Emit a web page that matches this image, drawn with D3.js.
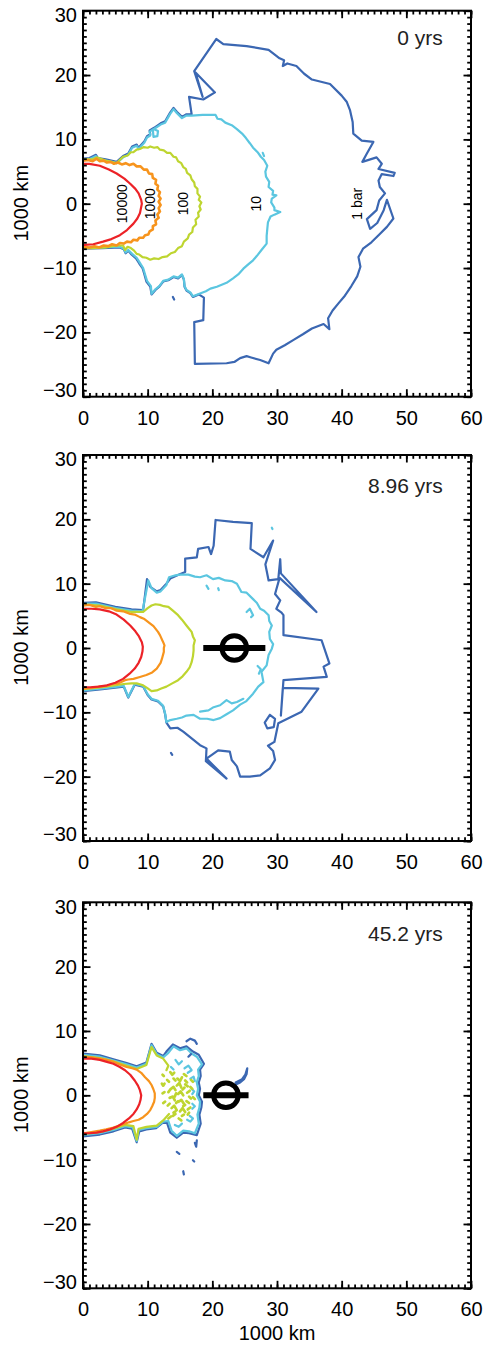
<!DOCTYPE html>
<html><head><meta charset="utf-8">
<script src="https://cdn.jsdelivr.net/npm/d3@7"></script>
<style>body{margin:0;background:#fff}svg{display:block}text{font-family:"Liberation Sans",Arial,Helvetica,sans-serif}</style>
</head><body><svg id="c" width="484" height="1345"></svg>
<script>
// ---------------- data ----------------
const xTicks = [0,10,20,30,40,50,60];
const yTicks = [-30,-20,-10,0,10,20,30];
const timeLabels = ["0 yrs","8.96 yrs","45.2 yrs"];
const levelLabels = ["10000","1000","100","10","1 bar"];
const levelLabelX = [6.1,10.3,15.5,26.8,42.3];
const levelColors = ["#ec2227","#f7941d","#bed530","#5bc6e0","#3b67b2"];
const axisTitle = "1000 km";

// panel 1: 0 yrs
const red0 = [[0,5.2],[0,6.2],[1,6.2],[2.6,5.9],[4,5.3],[5.2,4.7],[6.4,3.9],[7.3,3.1],[8.1,2.3],[8.6,1.6],[9.0,0.6],[9.1,0],[8.8,-1.5],[8.4,-2.3],[7.8,-3.1],[6.8,-4.1],[5.7,-4.9],[4.4,-5.5],[3.1,-5.9],[1.6,-6.3],[0.3,-6.4],[0,-6.4],[0,-5.3]];
const orange0 = [[0,6.7],[0.8,6.8],[1.5,6.6],[2.1,7.0],[2.6,6.6],[3.2,6.7],[3.7,6.4],[4.3,6.5],[4.8,6.2],[5.4,6.4],[6.0,6.1],[6.6,6.3],[7.2,6.0],[7.8,6.2],[8.3,5.8],[8.9,5.8],[9.4,5.3],[9.9,5.3],[10.2,4.7],[10.7,4.6],[10.8,4.0],[11.3,3.7],[11.2,3.1],[11.6,2.8],[11.5,2.2],[11.9,1.8],[11.7,1.2],[12.0,0.8],[11.7,0.3],[12.0,-0.2],[11.7,-0.7],[11.9,-1.2],[11.5,-1.7],[11.7,-2.2],[11.2,-2.6],[11.3,-3.2],[10.8,-3.5],[10.8,-4.0],[10.3,-4.3],[10.1,-4.8],[9.6,-4.9],[9.3,-5.3],[8.7,-5.3],[8.4,-5.7],[7.8,-5.6],[7.4,-6.0],[6.8,-5.9],[6.3,-6.2],[5.7,-6.1],[5.2,-6.5],[4.5,-6.3],[3.9,-6.6],[3.2,-6.5],[2.5,-6.8],[1.8,-6.6],[1.0,-6.8],[0,-6.7]];
const yg0 = [[0,6.9],[1.5,6.9],[2.1,7.2],[3.5,6.7],[5.2,6.3],[5.8,6.9],[6.2,7.3],[6.9,7.5],[7.4,8.0],[7.8,8.0],[8.3,8.4],[8.8,8.5],[9.4,8.8],[10.0,8.7],[10.4,8.9],[11.0,8.7],[11.5,8.8],[11.9,8.4],[12.5,8.3],[13.0,7.9],[13.5,7.9],[14.0,7.3],[14.4,7.2],[14.7,6.6],[15.2,6.3],[15.5,5.7],[15.9,5.4],[16.1,4.8],[16.6,4.4],[16.8,3.8],[17.2,3.3],[17.3,2.7],[17.7,2.3],[17.7,1.6],[18.1,1.1],[17.9,0.6],[18.3,0.2],[18.0,-0.4],[18.2,-0.9],[17.8,-1.4],[17.9,-2.0],[17.4,-2.5],[17.5,-3.2],[17.0,-3.7],[16.9,-4.4],[16.4,-4.8],[16.2,-5.4],[15.6,-5.9],[15.3,-6.6],[14.7,-6.9],[14.2,-7.5],[13.6,-7.7],[13.0,-8.2],[12.3,-8.3],[11.7,-8.6],[11.0,-8.5],[10.4,-8.7],[9.8,-8.4],[9.2,-8.3],[8.7,-7.9],[8.3,-7.8],[7.9,-7.3],[7.4,-6.9],[6.9,-6.7],[6.5,-7.2],[6.2,-6.5],[5.2,-6.5],[3.5,-6.8],[1.5,-6.9],[0,-6.9]];
const lb0 = [[0,6.9],[1,6.9],[2,7.4],[2.3,6.9],[3.5,6.7],[4.5,6.5],[5.2,6.3],[6.2,7.2],[7.0,7.6],[7.6,8.7],[8.3,9.0],[8.6,8.5],[9.5,9.5],[9.9,10.3],[10.4,10.6],[10.3,11.2],[10.9,11.6],[11.6,11.3],[11.5,10.5],[10.9,10.4],[10.8,11.5],[12.0,12.3],[12.7,12.6],[13.5,14.0],[14.0,14.7],[14.5,14.1],[15.3,13.3],[16.0,13.7],[16.8,13.7],[18.5,13.8],[20.5,13.8],[20.8,13.2],[21.4,13.1],[22.0,12.6],[23.0,12.2],[23.8,11.6],[24.6,10.9],[25.2,10.2],[25.8,9.4],[26.3,8.7],[27.0,8.0],[27.5,7.3],[28.0,6.8],[28.5,5.9],[28.2,5.0],[28.3,4.2],[28.8,3.4],[28.7,2.6],[29.4,2.0],[29.3,1.4],[29.9,1.3],[29.2,0.8],[29.1,0.2],[29.6,-0.6],[29.6,-1.0],[30.5,-1.3],[29.6,-1.7],[29.0,-2.0],[28.6,-2.9],[28.5,-3.9],[28.4,-5.0],[28.4,-6.2],[27.6,-7.2],[26.9,-8.1],[26.3,-8.8],[25.6,-9.4],[24.8,-10.1],[24.0,-11.0],[23.2,-11.6],[22.2,-12.3],[20.7,-12.9],[19.7,-13.2],[19.0,-13.6],[18.0,-14.0],[17.0,-14.4],[16.6,-13.8],[16.0,-13.4],[15.7,-12.8],[15.6,-11.7],[15.3,-11.0],[14.7,-11.5],[14.0,-11.3],[13.2,-11.8],[12.4,-12.0],[11.8,-12.8],[11.2,-13.3],[10.6,-14.0],[10.5,-12.8],[9.9,-12.0],[9.6,-11.0],[9.3,-10.0],[8.8,-9.2],[8.3,-8.4],[7.6,-7.8],[7.0,-7.2],[6.6,-7.6],[6.3,-7.0],[5.7,-6.7],[4.5,-6.7],[3.0,-6.8],[1.5,-6.8],[0,-6.9]];
const lb0Bits = [[[27.8,7.9],[28.0,7.4]]];
const blue0 = [[0,7.0],[1.0,7.1],[2.0,7.6],[2.3,7.1],[3.5,6.9],[5.2,6.5],[6.2,7.4],[7.0,7.8],[7.6,8.9],[8.3,9.2],[8.6,8.7],[9.5,9.7],[9.9,10.5],[10.4,10.8],[10.3,11.4],[11.0,11.8],[12.0,12.5],[12.7,12.8],[13.5,14.2],[14.0,14.9],[14.5,14.3],[15.3,13.5],[16.0,13.9],[16.8,13.9],[16.4,16.6],[18.6,16.2],[20.4,17.3],[17.4,20.4],[18.5,16.6],[17.2,20.6],[20.6,25.6],[21.7,24.8],[25.3,24.5],[28.7,23.9],[30.4,22.6],[31.1,22.3],[30.9,21.4],[31.6,21.8],[33.0,21.4],[34.2,20.2],[35.4,19.3],[38.2,18.6],[40.0,16.8],[40.8,15.8],[41.3,14.5],[41.7,12.7],[41.8,10.9],[43.1,9.8],[44.9,9.6],[43.9,7.8],[43.2,6.5],[45.4,7.2],[46.2,6.2],[45.7,5.4],[48.2,4.8],[48.0,4.3],[46.2,4.6],[45.7,3.6],[45.9,2.6],[46.7,1.6],[45.8,0.5],[45.4,-1.0],[43.9,-2.4],[44.4,-3.9],[45.5,-3.0],[46.5,-1.0],[47.0,0.6],[48.0,-2.3],[47.0,-3.6],[45.9,-4.7],[44.6,-6.0],[43.3,-7.0],[42.6,-8.3],[42.9,-9.8],[42.4,-11.3],[41.5,-12.8],[40.5,-14.3],[39.5,-15.5],[38.6,-16.6],[37.9,-17.8],[38.1,-19.5],[37.2,-18.7],[35.4,-19.4],[34.0,-20.3],[32.5,-21.2],[31.2,-22.0],[29.9,-22.7],[29.4,-23.3],[28.7,-24.8],[27.4,-24.3],[26.0,-23.9],[25.3,-23.7],[24.3,-24.0],[23.4,-24.6],[22.2,-24.8],[17.3,-24.9],[17.2,-18.4],[18.6,-18.1],[18.7,-14.6],[17.9,-14.1],[17.0,-14.5],[16.6,-13.9],[16.0,-13.5],[15.7,-12.9],[15.6,-11.8],[15.3,-11.1],[14.7,-11.6],[14.0,-11.4],[13.2,-11.9],[12.4,-12.1],[11.8,-12.9],[11.2,-13.4],[10.6,-14.1],[10.4,-12.9],[9.8,-12.1],[9.5,-11.0],[9.2,-10.0],[8.7,-9.3],[8.2,-8.5],[7.5,-7.9],[7.0,-7.3],[6.6,-7.7],[6.3,-7.1],[5.7,-6.8],[3.0,-6.9],[0,-7.0]];
const blue0Bits = [[[13.9,-14.5],[14.1,-14.9]]];

// panel 2: 8.96 yrs
const red1 = [[0,5.3],[0,6.1],[1.3,6.1],[2.6,6.0],[4.0,5.7],[5.2,5.2],[6.3,4.4],[7.3,3.5],[8.1,2.6],[8.6,1.9],[9.1,0.9],[9.25,0.2],[9.2,-0.5],[9.0,-1.4],[8.6,-2.3],[8.0,-3.2],[7.2,-4.0],[6.2,-4.8],[5.0,-5.4],[3.7,-5.8],[2.4,-6.0],[1.1,-6.1],[0,-6.1],[0,-5.2]];
const orange1 = [[0,6.6],[1.0,6.7],[2.0,6.4],[2.6,6.5],[3.5,6.2],[4.3,6.2],[5.2,5.8],[6.2,5.7],[7.3,5.3],[8.0,5.2],[8.8,4.8],[9.5,4.5],[10.4,3.8],[10.9,3.4],[11.6,2.5],[11.9,2.0],[12.4,0.9],[12.6,0.4],[12.5,0],[12.5,-0.6],[12.2,-1.7],[12.0,-2.3],[11.4,-3.2],[10.7,-3.8],[9.8,-4.2],[8.8,-4.5],[7.8,-4.8],[7.0,-4.9],[6.5,-5.0],[5.5,-5.5],[4.6,-5.6],[3.7,-5.9],[2.5,-6.0],[1.3,-6.2],[0,-6.3]];
const yg1 = [[0,6.8],[2.6,6.6],[5.2,6.0],[7.5,5.6],[9.3,5.6],[10.0,6.2],[10.6,6.6],[11.2,6.8],[11.9,6.7],[12.5,6.5],[13.2,6.4],[13.9,5.8],[14.7,5.1],[15.3,4.4],[16.0,3.5],[16.4,3.0],[16.8,2.5],[17.0,1.8],[17.3,1.2],[17.1,0.4],[17.1,-0.4],[17.0,-1.3],[16.8,-2.2],[16.5,-3.0],[16.0,-3.7],[15.4,-4.4],[14.7,-5.0],[13.8,-5.5],[12.9,-6.0],[12.1,-6.3],[11.4,-6.6],[10.6,-6.7],[9.9,-6.2],[9.3,-5.8],[8.3,-5.5],[7.5,-5.5],[6.3,-5.6],[3.0,-6.1],[0,-6.4]];
const lb1 = [[0,6.9],[2.0,6.9],[5.0,6.2],[7.5,5.8],[9.2,5.7],[10.1,10.5],[10.6,9.3],[11.4,8.6],[12.0,8.8],[12.9,9.8],[13.3,11.0],[14.3,11.3],[15.0,11.4],[16.3,11.4],[17.3,11.1],[18.1,11.0],[19.1,11.3],[20.1,10.7],[21.0,10.9],[22.0,10.5],[23.0,10.4],[23.8,10.0],[24.5,8.7],[25.3,8.6],[26.3,7.6],[26.9,7.0],[27.4,6.1],[28.0,5.8],[28.7,5.1],[28.8,4.2],[29.2,3.5],[28.8,2.5],[28.9,1.4],[29.4,0.6],[29.2,-0.1],[28.7,-1.1],[28.4,-2.7],[27.6,-3.7],[27.9,-5.3],[27.1,-6.0],[26.3,-7.1],[25.2,-8.3],[24.3,-8.8],[23.2,-9.7],[22.2,-10.3],[21.2,-10.9],[20.2,-11.2],[19.2,-11.0],[18.1,-11.0],[17.1,-10.4],[16.0,-10.5],[15.3,-10.8],[14.5,-11.0],[13.5,-11.2],[12.9,-11.5],[12.7,-10.2],[12.4,-9.0],[11.6,-8.2],[10.6,-7.9],[10.0,-7.2],[9.3,-5.9],[8.0,-5.6],[7.0,-7.6],[6.3,-5.9],[3.0,-6.3],[0,-6.6]];
const lb1Bits = [[[18.1,-9.9],[19.4,-9.7],[20.2,-9.2],[21.2,-8.9],[22.2,-8.1],[23.0,-8.6],[23.8,-8.4],[24.8,-7.9]],[[25.3,5.6],[25.8,6.1],[26.3,5.1],[26.0,4.8]],[[19.1,9.7],[19.4,9.2]],[[20.9,9.3],[21.0,9.0]],[[29.2,18.7],[29.3,18.5]],[[27.0,-2.8],[27.5,-3.3],[27.2,-4.0]]];
const blue1 = [[0,7.0],[2.0,7.1],[5.0,6.4],[7.5,6.0],[9.3,5.9],[9.9,10.7],[10.4,9.5],[11.4,8.8],[12.0,9.0],[12.9,10.0],[13.5,10.8],[14.6,11.3],[15.8,11.8],[15.8,13.9],[17.6,14.1],[17.8,15.4],[19.4,15.7],[19.8,14.6],[20.2,15.9],[20.5,19.9],[23.2,19.6],[26.1,19.4],[25.9,15.4],[27.9,14.1],[29.4,16.7],[28.2,13.0],[28.4,12.0],[28.7,10.5],[30.2,10.7],[30.5,13.8],[30.6,11.6],[36.1,5.6],[30.4,10.9],[29.7,8.4],[30.5,7.4],[29.9,6.1],[30.7,5.5],[31.0,5.1],[31.0,2.0],[36.9,1.2],[38.1,-2.4],[37.2,-2.9],[37.7,-4.5],[31.0,-5.0],[30.6,-10.5],[30.9,-6.2],[36.4,-6.3],[33.8,-9.9],[30.2,-11.7],[29.6,-14.6],[28.6,-15.2],[29.4,-16.0],[29.7,-17.4],[28.9,-18.7],[27.4,-19.8],[25.8,-20.0],[24.3,-20.0],[23.8,-18.4],[23.0,-17.4],[22.7,-16.1],[20.9,-15.9],[19.1,-17.2],[22.2,-20.3],[19.0,-17.6],[19.1,-15.6],[18.1,-15.1],[15.5,-13.0],[14.6,-12.4],[13.5,-12.5],[12.9,-11.6],[12.7,-10.3],[12.4,-9.1],[11.6,-8.3],[10.6,-8.0],[10.0,-7.3],[9.3,-6.0],[8.0,-5.7],[7.0,-7.7],[6.3,-6.0],[3.0,-6.4],[0,-6.7]];
const blue1Bits = [[[28.9,-10.4],[29.7,-11.0],[29.5,-12.3],[28.5,-12.5],[28.1,-11.6],[28.9,-10.4]],[[13.6,-16.3],[13.8,-16.6]]];

// panel 3: 45.2 yrs
const red2 = [[0,4.9],[0,5.7],[1.3,5.7],[2.6,5.5],[3.7,5.2],[4.7,4.9],[5.7,4.4],[6.5,3.9],[7.3,3.2],[8.0,2.3],[8.5,1.5],[8.8,0.8],[9.0,0],[8.9,-0.7],[8.7,-1.4],[8.3,-2.2],[7.8,-2.9],[7.1,-3.6],[6.2,-4.3],[5.2,-4.9],[4.2,-5.3],[3.1,-5.6],[2.1,-5.8],[1.0,-5.9],[0,-5.9],[0,-5.0]];
const orange2 = [[0,6.0],[1.3,5.9],[2.6,5.7],[3.7,5.5],[4.7,5.2],[5.7,4.8],[6.75,4.4],[7.6,4.2],[8.3,4.0],[9.0,3.5],[9.6,2.8],[10.2,2.2],[10.6,1.6],[10.9,0.9],[11.1,0.3],[11.1,-0.4],[11.0,-1.0],[10.7,-1.7],[10.4,-2.3],[9.9,-2.9],[9.3,-3.4],[8.6,-3.8],[7.8,-4.0],[7.1,-4.2],[6.5,-4.4],[5.6,-4.7],[4.7,-5.0],[3.6,-5.3],[2.6,-5.5],[1.3,-5.7],[0,-5.9]];
const yg2Top = [[0,6.1],[2.6,5.8],[4.7,5.3],[6.75,4.6],[8.3,4.1],[9.8,4.7],[10.6,7.5],[11.4,6.2],[12.4,5.7],[13.2,4.6],[12.9,3.9]];
const yg2Bot = [[13.3,-2.9],[12.4,-3.9],[11.4,-4.7],[9.8,-4.9],[8.6,-5.2],[8.3,-6.9],[7.8,-4.8],[6.5,-4.6],[4.7,-5.2],[2.6,-5.7],[0,-6.0]];
const yg2Bits = [[[12.3,3.2],[12.5,3.0]],[[12.2,1.8],[12.4,1.5],[12.6,1.8]],[[12.3,0.3],[12.6,0.5]],[[12.4,-1.2],[12.7,-1.0]],[[13.0,2.4],[13.3,2.1]],[[13.5,3.6],[13.8,3.2],[14.1,3.5]],[[13.6,1.0],[14.0,1.3],[14.3,0.8]],[[13.4,-0.4],[13.9,-0.2],[14.2,-0.8]],[[13.7,-2.0],[14.1,-1.6],[14.5,-2.3]],[[13.9,-3.2],[14.3,-2.9]],[[14.6,2.6],[15.0,2.2],[15.3,2.8]],[[14.5,1.5],[14.9,1.9],[15.2,1.2]],[[14.7,0.2],[15.1,0.6],[15.5,0.0]],[[14.8,-1.0],[15.2,-0.7],[15.6,-1.3]],[[15.0,-2.5],[15.4,-2.0],[15.8,-2.6]],[[15.6,3.3],[16.0,3.0]],[[15.8,1.7],[16.2,1.4]],[[16.1,0.4],[16.5,0.7]],[[16.0,-0.9],[16.4,-1.2]],[[16.2,-2.2],[16.6,-1.9]],[[16.7,2.4],[17.0,2.1]],[[17.0,-0.3],[17.3,-0.6]],[[13.2,-3.6],[13.6,-3.3]],[[14.8,-3.6],[15.2,-3.9]],[[13.2,0.5],[13.5,0.9]],[[13.1,-1.6],[13.4,-1.3]],[[14.0,2.6],[14.3,2.3]],[[14.2,-0.2],[14.4,0.3]],[[14.4,-1.2],[14.7,-0.9]],[[15.4,0.9],[15.7,1.2]],[[15.5,-1.7],[15.8,-1.5]],[[15.8,2.3],[16.1,2.0]],[[16.4,-0.2],[16.7,-0.5]],[[16.6,1.3],[16.9,1.0]],[[14.0,-2.7],[14.3,-2.5]],[[15.3,-3.2],[15.6,-3.0]],[[16.2,-3.0],[16.4,-2.7]]];
const lb2 = [[0,6.3],[2.6,6.0],[4.7,5.4],[6.75,4.8],[8.3,4.3],[9.8,4.9],[10.6,7.8],[11.4,6.4],[12.4,5.9],[13.2,6.6],[14.0,7.6],[15.0,7.0],[16.0,7.3],[16.8,6.5],[17.6,6.0],[18.4,4.8],[17.8,4.0],[17.9,3.0],[17.6,2.0],[17.8,1.0],[17.6,0.0],[18.1,-1.0],[18.0,-1.9],[17.7,-3.0],[17.9,-4.4],[17.3,-5.9],[16.4,-5.6],[15.5,-5.5],[14.5,-6.3],[13.7,-5.5],[13.2,-4.0],[12.4,-4.1],[11.4,-4.9],[9.8,-5.1],[8.6,-5.4],[8.3,-7.1],[7.7,-5.0],[6.5,-4.8],[4.7,-5.4],[2.6,-5.9],[0,-6.2]];
const lb2Bits = [[[14.3,5.5],[14.8,4.8],[15.3,5.3]],[[15.7,4.2],[16.3,4.6],[16.8,3.9],[16.2,3.5]],[[16.6,2.6],[17.1,2.9],[17.3,2.2]],[[16.8,1.0],[17.2,0.6],[16.9,0.2]],[[16.9,-1.3],[17.3,-1.7],[16.9,-2.1]],[[16.5,-3.2],[17.0,-3.6],[16.6,-4.1],[16.1,-3.8]],[[14.2,-4.6],[14.8,-4.9],[15.3,-4.4]],[[13.6,4.4],[14.0,4.0]]];
const blue2 = [[0,6.5],[2.6,6.2],[4.7,5.6],[6.75,5.0],[8.3,4.5],[9.8,5.1],[10.6,8.0],[11.4,6.6],[12.4,6.1],[12.9,6.8],[13.9,7.9],[15.0,7.3],[16.0,7.6],[17.0,6.8],[17.9,6.3],[18.7,4.9],[18.1,4.0],[18.2,3.0],[17.9,2.0],[18.1,1.0],[17.9,0.0],[18.4,-1.0],[18.3,-1.9],[18.0,-3.0],[18.2,-4.4],[17.6,-6.2],[16.4,-5.9],[15.5,-5.8],[14.5,-6.6],[13.5,-5.8],[13.0,-4.3],[12.3,-4.3],[11.3,-5.1],[9.8,-5.3],[8.7,-5.6],[8.3,-7.3],[7.6,-5.2],[6.5,-5.0],[4.7,-5.6],[2.6,-6.1],[0,-6.4]];
const blue2Bits = [[[16.0,8.4],[16.6,8.8],[17.3,8.5],[17.6,8.0]],[[16.3,6.0],[16.7,6.4]],[[17.6,-7.0],[17.5,-8.0],[17.3,-7.4]],[[14.5,-8.8],[14.9,-9.1]],[[17.0,-10.1],[17.2,-10.3]],[[15.5,-11.8],[15.6,-12.3]],[[23.2,1.5],[24.3,2.0],[24.9,2.5],[25.3,3.3],[25.4,4.2],[25.1,3.2],[24.6,2.5],[23.6,2.0]]];

// observer markers (panels 2,3): centre x, bar from / to
const markerCx = [null, 23.4, 22.1];
const markerBarFrom = [null, 18.6, 18.6];
const markerBarTo = [null, 28.2, 25.6];

// ---------------- drawing ----------------
const panels = [
  {lines:[[blue0,4],[lb0,3],[yg0,2],[orange0,1],[red0,0]], bits:[[lb0Bits,3],[blue0Bits,4]]},
  {lines:[[blue1,4],[lb1,3],[yg1,2],[orange1,1],[red1,0]], bits:[[lb1Bits,3],[blue1Bits,4]]},
  {lines:[[blue2,4],[lb2,3],[yg2Top,2],[yg2Bot,2],[orange2,1],[red2,0]], bits:[[blue2Bits,4],[lb2Bits,3],[yg2Bits,2]]}
];

const svg = d3.select("#c");
const L = 83, R = 471, H = 386;
const tops = [10.7, 455, 902.3];
const timeBase = [34.5, 38.3, 38.4];
const FONT = '"Liberation Sans", Arial, Helvetica, sans-serif';
const x = d3.scaleLinear().domain([0,60]).range([0, R-L]);
const y = d3.scaleLinear().domain([-30,30]).range([H, 0]);
const xMinor = x.ticks(60);
const yMinor = y.ticks(60);
const line = d3.line().x(d => x(d[0])).y(d => y(d[1]));

function styleAxis(sel){
  sel.select(".domain").remove();
  sel.attr("font-size", 20).attr("font-family", FONT);
  sel.selectAll("line").attr("stroke-width", 1.8).attr("stroke", "#000");
  sel.selectAll("text").attr("fill", "#000");
}

panels.forEach((p, i) => {
  const g = svg.append("g").attr("transform", `translate(${L},${tops[i]})`);
  g.append("clipPath").attr("id", "clip" + i).append("rect").attr("width", R-L).attr("height", H);
  const cg = g.append("g").attr("clip-path", `url(#clip${i})`);

  p.lines.forEach(([pts, lev]) => {
    cg.append("path").attr("d", line(pts)).attr("fill", "none")
      .attr("stroke", levelColors[lev]).attr("stroke-width", lev === 1 && i === 0 ? 2.6 : 2.2)
      .attr("stroke-linejoin", "round").attr("stroke-linecap", "round");
  });
  p.bits.forEach(([set, lev]) => {
    set.forEach(pts => cg.append("path").attr("d", line(pts)).attr("fill", "none")
      .attr("stroke", levelColors[lev]).attr("stroke-width", lev === 2 ? 2.7 : 2.2)
      .attr("stroke-linejoin", "round").attr("stroke-linecap", "round"));
  });

  if (i === 0) {
    levelLabels.forEach((t, k) => {
      g.append("text").attr("transform", `translate(${x(levelLabelX[k])},${y(0)}) rotate(-90)`)
        .attr("text-anchor", "middle").attr("dominant-baseline", "central")
        .attr("font-size", 14).attr("font-family", FONT).attr("fill", "#000").text(t);
    });
  }

  if (markerCx[i] !== null) {
    g.append("line").attr("x1", x(markerBarFrom[i])).attr("x2", x(markerBarTo[i]))
      .attr("y1", y(0)).attr("y2", y(0)).attr("stroke", "#000").attr("stroke-width", 6);
    g.append("circle").attr("cx", x(markerCx[i])).attr("cy", y(0)).attr("r", 12.3)
      .attr("fill", "none").attr("stroke", "#000").attr("stroke-width", 5);
  }

  // axes: major ticks (inward) and minor ticks on all four sides
  g.append("g").attr("transform", `translate(0,${H})`)
    .call(d3.axisBottom(x).tickValues(xTicks).tickSizeInner(-7.5).tickSizeOuter(0).tickPadding(13.8))
    .call(styleAxis);
  g.append("g").call(d3.axisTop(x).tickValues(xTicks).tickSizeInner(-7.5).tickSizeOuter(0).tickFormat(""))
    .call(styleAxis);
  g.append("g").attr("transform", `translate(0,${H})`)
    .call(d3.axisBottom(x).tickValues(xMinor).tickSizeInner(-3.8).tickSizeOuter(0).tickFormat("")).call(styleAxis);
  g.append("g").call(d3.axisTop(x).tickValues(xMinor).tickSizeInner(-3.8).tickSizeOuter(0).tickFormat("")).call(styleAxis);

  const ya = g.append("g")
    .call(d3.axisLeft(y).tickValues(yTicks).tickSizeInner(-7.5).tickSizeOuter(0).tickPadding(6))
    .call(styleAxis);
  ya.selectAll(".tick text").filter(d => d === yTicks[yTicks.length-1]).attr("y", 4.3);
  ya.selectAll(".tick text").filter(d => d === yTicks[0]).attr("y", -6.6);
  g.append("g").attr("transform", `translate(${R-L},0)`)
    .call(d3.axisRight(y).tickValues(yTicks).tickSizeInner(-7.5).tickSizeOuter(0).tickFormat("")).call(styleAxis);
  g.append("g").call(d3.axisLeft(y).tickValues(yMinor).tickSizeInner(-3.8).tickSizeOuter(0).tickFormat("")).call(styleAxis);
  g.append("g").attr("transform", `translate(${R-L},0)`)
    .call(d3.axisRight(y).tickValues(yMinor).tickSizeInner(-3.8).tickSizeOuter(0).tickFormat("")).call(styleAxis);

  g.append("rect").attr("width", R-L).attr("height", H).attr("fill", "none")
    .attr("stroke", "#000").attr("stroke-width", 2);

  g.append("text").attr("x", 442.7 - L).attr("y", timeBase[i]).attr("text-anchor", "end")
    .attr("font-size", 21).attr("font-family", FONT).attr("fill", "#222").text(timeLabels[i]);

  svg.append("text").attr("transform", `translate(20.8,${tops[i] + H/2 - 0.5}) rotate(-90)`)
    .attr("text-anchor", "middle").attr("dominant-baseline", "central")
    .attr("font-size", 20).attr("font-family", FONT).attr("fill", "#000").text(axisTitle);

  if (i === 2) {
    svg.append("text").attr("x", L + (R-L)/2).attr("y", tops[i] + H + 51.5).attr("text-anchor", "middle")
      .attr("font-size", 20).attr("font-family", FONT).attr("fill", "#000").text(axisTitle);
  }
});
</script></body></html>
